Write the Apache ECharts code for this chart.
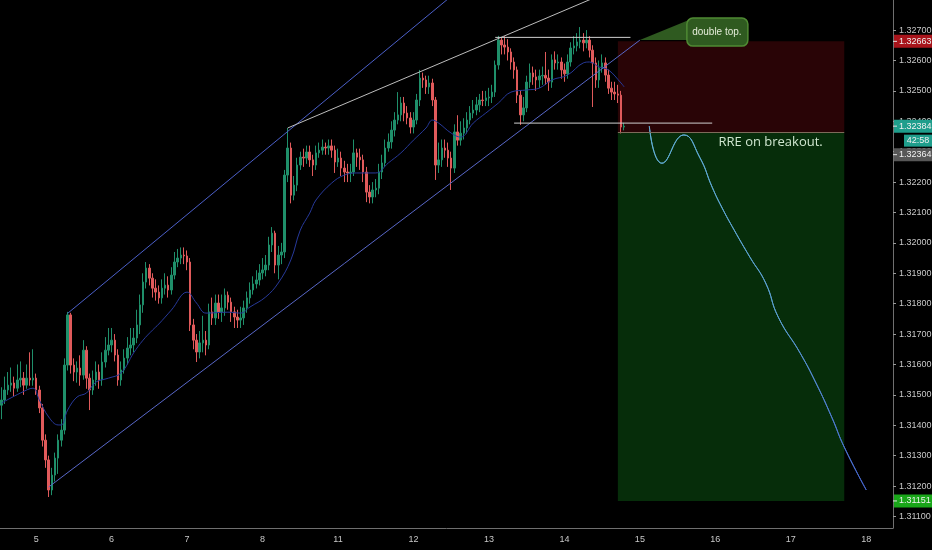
<!DOCTYPE html>
<html>
<head>
<meta charset="utf-8">
<script src="https://cdn.jsdelivr.net/npm/echarts@6.0.0/dist/echarts.min.js"></script>
<style>
  html, body { margin: 0; background: #000; }
  #chart { width: 932px; height: 550px; }
</style>
</head>
<body>
<div id="chart"></div>
<script>
// hourly GBP pair, day labels on the x axis
var dayLabels = ['5', '6', '7', '8', '11', '12', '13', '14', '15', '16', '17', '18'];
var barsPerDay = 24;
var barsBeforeFirstDay = 11;
var totalBars = 284;

var firstOpen = 1.31466;
var closes = [
  1.31483,1.31516,1.31532,1.31539,1.31522,1.31549,1.31555,1.31532,1.31555,1.31549,
  1.31555,1.31516,1.31457,1.31351,1.31286,1.31187,1.31236,1.31292,1.31351,1.31384,
  1.31598,1.31763,1.31598,1.31575,1.31588,1.31565,1.31647,1.31555,1.31516,1.31549,
  1.31575,1.31549,1.31608,1.31647,1.31664,1.31680,1.31631,1.31549,1.31582,1.31621,
  1.31654,1.31664,1.31687,1.31730,1.31796,1.31871,1.31917,1.31884,1.31851,1.31838,
  1.31819,1.31851,1.31861,1.31845,1.31894,1.31937,1.31950,1.31960,1.31957,1.31937,
  1.31730,1.31680,1.31641,1.31671,1.31680,1.31664,1.31773,1.31753,1.31802,1.31773,
  1.31786,1.31828,1.31805,1.31773,1.31756,1.31746,1.31753,1.31786,1.31819,1.31845,
  1.31865,1.31878,1.31901,1.31911,1.31927,1.31993,1.32032,1.31927,1.31960,1.31970,
  1.32223,1.32312,1.32157,1.32190,1.32256,1.32282,1.32279,1.32299,1.32273,1.32256,
  1.32296,1.32305,1.32315,1.32312,1.32319,1.32305,1.32266,1.32279,1.32246,1.32233,
  1.32230,1.32233,1.32296,1.32282,1.32273,1.32233,1.32167,1.32151,1.32174,1.32180,
  1.32233,1.32263,1.32312,1.32332,1.32371,1.32404,1.32421,1.32460,1.32427,1.32411,
  1.32381,1.32404,1.32470,1.32542,1.32536,1.32513,1.32526,1.32470,1.32256,1.32273,
  1.32312,1.32305,1.32279,1.32246,1.32365,1.32338,1.32361,1.32378,1.32404,1.32427,
  1.32437,1.32454,1.32470,1.32468,1.32477,1.32480,1.32496,1.32585,1.32667,1.32651,
  1.32644,1.32628,1.32595,1.32569,1.32486,1.32421,1.32444,1.32529,1.32559,1.32546,
  1.32536,1.32549,1.32551,1.32542,1.32529,1.32602,1.32592,1.32595,1.32569,1.32556,
  1.32595,1.32641,1.32648,1.32661,1.32667,1.32658,1.32667,1.32634,1.32592,1.32536,
  1.32575,1.32592,1.32552,1.32509,1.32496,1.32490,1.32486,1.32381,1.32384
];
var highs = [
  1.31525,1.31560,1.31575,1.31590,1.31560,1.31600,1.31610,1.31575,1.31600,1.31640,
  1.31650,1.31570,1.31530,1.31470,1.31370,1.31300,1.31260,1.31310,1.31370,1.31420,
  1.31620,1.31773,1.31770,1.31620,1.31610,1.31630,1.31680,1.31660,1.31570,1.31580,
  1.31610,1.31600,1.31640,1.31690,1.31720,1.31720,1.31700,1.31650,1.31610,1.31650,
  1.31690,1.31720,1.31720,1.31780,1.31830,1.31900,1.31937,1.31930,1.31900,1.31880,
  1.31860,1.31880,1.31900,1.31890,1.31920,1.31970,1.31980,1.31985,1.31985,1.31975,
  1.31950,1.31750,1.31700,1.31710,1.31760,1.31710,1.31800,1.31820,1.31830,1.31830,
  1.31830,1.31850,1.31840,1.31820,1.31790,1.31780,1.31790,1.31810,1.31840,1.31870,
  1.31890,1.31910,1.31930,1.31950,1.31960,1.32020,1.32052,1.32040,1.31990,1.32000,
  1.32240,1.32378,1.32330,1.32220,1.32280,1.32300,1.32310,1.32320,1.32320,1.32290,
  1.32320,1.32330,1.32340,1.32330,1.32340,1.32340,1.32320,1.32310,1.32300,1.32270,
  1.32260,1.32260,1.32340,1.32310,1.32310,1.32290,1.32250,1.32190,1.32200,1.32210,
  1.32260,1.32290,1.32340,1.32360,1.32400,1.32430,1.32496,1.32480,1.32480,1.32450,
  1.32430,1.32430,1.32490,1.32569,1.32560,1.32550,1.32550,1.32540,1.32480,1.32330,
  1.32340,1.32340,1.32330,1.32300,1.32390,1.32420,1.32400,1.32410,1.32430,1.32450,
  1.32470,1.32480,1.32490,1.32500,1.32500,1.32510,1.32520,1.32600,1.32681,1.32675,
  1.32680,1.32670,1.32640,1.32610,1.32580,1.32500,1.32480,1.32550,1.32590,1.32580,
  1.32570,1.32570,1.32580,1.32628,1.32570,1.32620,1.32630,1.32620,1.32610,1.32590,
  1.32620,1.32660,1.32680,1.32690,1.32710,1.32690,1.32700,1.32680,1.32650,1.32610,
  1.32600,1.32620,1.32610,1.32570,1.32530,1.32530,1.32520,1.32500,1.32395
];
var lows = [
  1.31420,1.31470,1.31500,1.31510,1.31495,1.31510,1.31525,1.31500,1.31520,1.31530,
  1.31530,1.31500,1.31440,1.31330,1.31260,1.31164,1.31170,1.31215,1.31240,1.31330,
  1.31370,1.31580,1.31570,1.31545,1.31540,1.31530,1.31550,1.31520,1.31450,1.31500,
  1.31530,1.31520,1.31530,1.31590,1.31630,1.31640,1.31610,1.31530,1.31530,1.31570,
  1.31600,1.31630,1.31640,1.31670,1.31700,1.31770,1.31850,1.31860,1.31820,1.31810,
  1.31800,1.31800,1.31830,1.31820,1.31830,1.31880,1.31920,1.31930,1.31930,1.31910,
  1.31710,1.31650,1.31608,1.31620,1.31640,1.31630,1.31650,1.31730,1.31730,1.31750,
  1.31740,1.31760,1.31780,1.31740,1.31720,1.31720,1.31720,1.31730,1.31770,1.31800,
  1.31830,1.31850,1.31860,1.31880,1.31890,1.31910,1.31970,1.31900,1.31880,1.31930,
  1.31950,1.32200,1.32130,1.32140,1.32170,1.32240,1.32250,1.32260,1.32250,1.32220,
  1.32240,1.32280,1.32290,1.32290,1.32290,1.32280,1.32230,1.32250,1.32220,1.32200,
  1.32200,1.32200,1.32220,1.32250,1.32240,1.32200,1.32134,1.32130,1.32130,1.32150,
  1.32160,1.32210,1.32250,1.32300,1.32310,1.32350,1.32390,1.32400,1.32400,1.32390,
  1.32360,1.32360,1.32390,1.32450,1.32510,1.32490,1.32490,1.32450,1.32207,1.32230,
  1.32250,1.32280,1.32250,1.32174,1.32230,1.32320,1.32320,1.32340,1.32360,1.32390,
  1.32410,1.32420,1.32430,1.32450,1.32450,1.32450,1.32460,1.32480,1.32570,1.32620,
  1.32620,1.32600,1.32570,1.32540,1.32460,1.32388,1.32400,1.32430,1.32510,1.32520,
  1.32500,1.32510,1.32520,1.32520,1.32500,1.32510,1.32570,1.32570,1.32540,1.32530,
  1.32540,1.32580,1.32620,1.32630,1.32640,1.32630,1.32640,1.32610,1.32447,1.32510,
  1.32510,1.32560,1.32530,1.32490,1.32470,1.32470,1.32460,1.32360,1.32370
];

// moving average
var maSlots = [0,6,10,12,15,18,19,21,24,27,30,34,38,42,45,48,50,54,59,62,65,72,76,79,84,88,92,95,98,100,
  105,109,113,119,123,127,131,135,137,139,143,146,150,154,158,162,167,171,175,180,185,187,190,193,197,198];
var maValues = [1.31473,1.31506,1.31522,1.31483,1.31427,1.31401,1.31401,1.31450,1.31493,1.31506,
  1.31542,1.31555,1.31572,1.31638,1.31680,1.31713,1.31733,1.31779,1.31838,1.31802,
  1.31769,1.31772,1.31769,1.31789,1.31822,1.31868,1.31944,1.32042,1.32098,1.32141,
  1.32197,1.32223,1.32230,1.32230,1.32263,1.32296,1.32338,1.32378,1.32404,1.32394,
  1.32361,1.32348,1.32394,1.32427,1.32460,1.32496,1.32503,1.32509,1.32536,1.32552,
  1.32592,1.32595,1.32579,1.32569,1.32526,1.32513];

// projected path
var projSlots = [206,210,217,222,226,229,233,238,243,247,254,259,264,268,275];
var projValues = [1.32384,1.32262,1.32355,1.32282,1.32183,1.32118,1.32042,1.31953,1.31868,1.31756,
  1.31637,1.31539,1.31427,1.31328,1.31187];

// position tool levels
var stopPrice = 1.32663;
var entryPrice = 1.32364;
var targetPrice = 1.31151;
var lastPrice = 1.32384;
var positionFrom = 196, positionTo = 268;

var yTicks = [1.311,1.312,1.313,1.314,1.315,1.316,1.317,1.318,1.319,1.320,1.321,1.322,1.323,1.324,1.325,1.326,1.327];

var categories = [];
for (var i = 0; i < totalBars; i++) {
  var k = (i - barsBeforeFirstDay) / barsPerDay;
  categories.push(Number.isInteger(k) && k >= 0 && k < dayLabels.length ? dayLabels[k] : '');
}
var candles = closes.map(function (c, i) {
  var o = i === 0 ? firstOpen : closes[i - 1];
  return [o, c, lows[i], highs[i]];
});
var pairs = function (xs, ys) { return xs.map(function (x, i) { return [x, ys[i]]; }); };

var trendLines = [
  { pts: [[21, 1.31768], [146, 1.32837]], color: '#4b5fc8' },   // upper channel
  { pts: [[15, 1.31197], [203, 1.32667]], color: '#5867c8' },   // lower channel
  { pts: [[91, 1.32378], [190, 1.32813]], color: '#bdbdbd' },   // wedge top
  { pts: [[157, 1.32676], [200, 1.32676]], color: '#d0d0d0' },  // double top
  { pts: [[163, 1.32394], [226, 1.32394]], color: '#d0d0d0' }   // neckline
];

var chart = echarts.init(document.getElementById('chart'));
var showLabel = function (idx, val) { return val !== ''; };

var series = [{
  type: 'line',
  data: pairs([positionFrom], [entryPrice]),
  showSymbol: false,
  silent: true,
  z: 1,
  markArea: {
    silent: true,
    data: [
      [{ coord: [positionFrom, stopPrice], itemStyle: { color: '#290406' } }, { coord: [positionTo, entryPrice] }],
      [{ coord: [positionFrom, entryPrice], itemStyle: { color: '#062d0a' } }, { coord: [positionTo, targetPrice] }]
    ]
  },
  markLine: {
    silent: true, symbol: 'none', label: { show: false },
    lineStyle: { color: '#7d6b5a', width: 1, type: 'solid' },
    data: [[{ coord: [positionFrom, entryPrice] }, { coord: [positionTo, entryPrice] }]]
  }
}, {
  type: 'candlestick',
  data: candles,
  barWidth: 2,
  z: 3,
  itemStyle: { color: '#1f8f6a', color0: '#e05a5b', borderColor: '#1f8f6a', borderColor0: '#e05a5b', borderWidth: 1 }
}, {
  type: 'line',
  data: pairs(maSlots, maValues),
  smooth: 0.4,
  showSymbol: false,
  silent: true,
  z: 4,
  lineStyle: { color: '#27399a', width: 1 }
}, {
  type: 'line',
  data: pairs(projSlots, projValues),
  smooth: 0.5,
  showSymbol: false,
  silent: true,
  z: 4,
  lineStyle: {
    width: 1,
    color: new echarts.graphic.LinearGradient(0, 0, 1, 0, [
      { offset: 0, color: '#62b0d6' }, { offset: 0.6, color: '#5a9fd0' }, { offset: 1, color: '#4563cf' }
    ])
  }
}];
trendLines.forEach(function (t) {
  series.push({ type: 'line', data: t.pts, showSymbol: false, silent: true, z: 5,
    lineStyle: { color: t.color, width: 1 } });
});

chart.setOption({
  backgroundColor: '#000',
  animation: false,
  grid: { left: 0, right: 39, top: 0, bottom: 22, outerBoundsMode: 'none', containLabel: false },
  xAxis: {
    type: 'category',
    data: categories,
    boundaryGap: true,
    axisLine: { lineStyle: { color: '#6f6f6f' } },
    axisTick: { interval: showLabel, alignWithLabel: true, length: 3, lineStyle: { color: '#6f6f6f' } },
    axisLabel: { interval: showLabel, color: '#c8c8c8', fontSize: 9, fontFamily: 'Liberation Sans', margin: 7 },
    splitLine: { show: false }
  },
  yAxis: {
    type: 'value',
    position: 'right',
    min: 1.31062,
    max: 1.32799,
    scale: true,
    axisLine: { show: true, lineStyle: { color: '#6f6f6f' } },
    axisTick: { show: true, customValues: yTicks, length: 3, lineStyle: { color: '#9a9a9a' } },
    axisLabel: { customValues: yTicks, color: '#c8c8c8', fontSize: 9, fontFamily: 'Liberation Sans', margin: 6,
      formatter: function (v) { return v.toFixed(5); } },
    splitLine: { show: false }
  },
  series: series
});

// price tags on the axis and annotations
var axisX = 893;
var px = function (slot, price) { return chart.convertToPixel({ gridIndex: 0 }, [slot, price]); };
var py = function (price) { return chart.convertToPixel({ yAxisIndex: 0 }, price); };
var tags = [
  { price: stopPrice, text: stopPrice.toFixed(5), bg: '#a8141b' },
  { price: lastPrice, text: lastPrice.toFixed(5), bg: '#1f9e8c', countdown: '42:58' },
  { price: entryPrice, text: entryPrice.toFixed(5), bg: '#575757' },
  { price: targetPrice, text: targetPrice.toFixed(5), bg: '#19a619' }
];
var g = [];
var prevBottom = -100;
tags.forEach(function (t) {
  var yc = Math.max(py(t.price), prevBottom + 8);
  g.push({ type: 'rect', z: 100, shape: { x: axisX + 1, y: yc - 6.5, width: 39, height: 13 }, style: { fill: t.bg } });
  g.push({ type: 'rect', z: 101, shape: { x: axisX, y: yc - 0.5, width: 4, height: 1 }, style: { fill: '#e0e0e0' } });
  g.push({ type: 'text', z: 102, style: { text: t.text, x: axisX + 6, y: yc, fill: '#f0f0f0',
    font: '9px Liberation Sans', align: 'left', verticalAlign: 'middle' } });
  prevBottom = yc + 6.5;
  if (t.countdown) {
    var yd = prevBottom + 8;
    g.push({ type: 'rect', z: 100, shape: { x: axisX + 11, y: yd - 6, width: 29, height: 12 }, style: { fill: t.bg } });
    g.push({ type: 'text', z: 102, style: { text: t.countdown, x: axisX + 25, y: yd, fill: '#f0f0f0',
      font: '9px Liberation Sans', align: 'center', verticalAlign: 'middle' } });
    prevBottom = yd + 6;
  }
});

var tip = px(203, 1.32667);
g.push({ type: 'polygon', z: 90, shape: { points: [[tip[0], tip[1]], [tip[0] + 49, tip[1] - 20], [tip[0] + 49, tip[1]]] },
  style: { fill: '#2f5a20' } });
g.push({ type: 'rect', z: 91, shape: { x: tip[0] + 47, y: tip[1] - 22, width: 61, height: 28, r: 6 },
  style: { fill: '#2f5a20', stroke: '#4f8a33', lineWidth: 1.5 } });
g.push({ type: 'text', z: 92, style: { text: 'double top.', x: tip[0] + 77, y: tip[1] - 8, fill: '#e4ecd8',
  font: '10px Liberation Sans', align: 'center', verticalAlign: 'middle' } });

var note = px(228, 1.32332);
g.push({ type: 'text', z: 92, style: { text: 'RRE on breakout.', x: note[0], y: note[1], fill: '#cfe6cf',
  font: '13px Open Sans', align: 'left', verticalAlign: 'middle' } });

chart.setOption({ graphic: g });
</script>
</body>
</html>
